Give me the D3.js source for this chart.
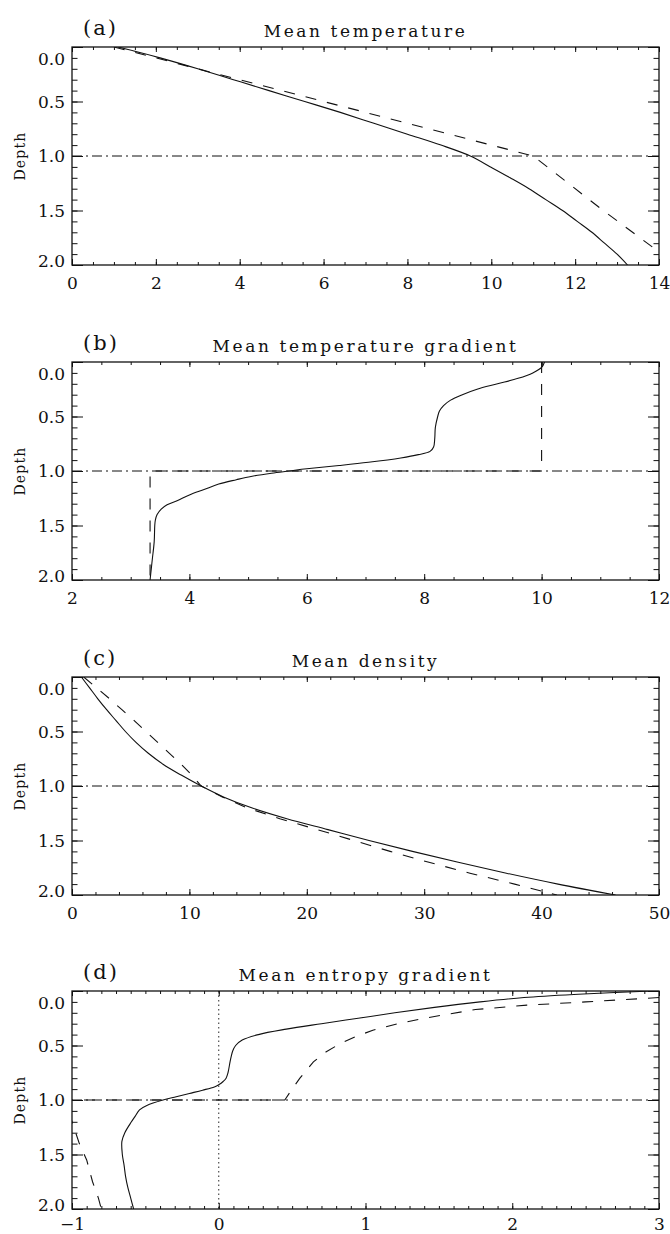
<!DOCTYPE html>
<html>
<head>
<meta charset="utf-8">
<script src="https://cdn.jsdelivr.net/npm/d3@7"></script>
<style>
  body { margin: 0; background: #fff; }
  svg text { font-family: "DejaVu Serif", "Liberation Serif", serif; fill: #111; }
</style>
</head>
<body>
<div id="chart"></div>
<script>
// ---- values ----
const panelLabels = ["(a)", "(b)", "(c)", "(d)"];
const panelTitles = ["Mean temperature", "Mean temperature gradient", "Mean density", "Mean entropy gradient"];
const xDomains = [[0, 14], [2, 12], [0, 50], [-1, 3]];
const xTickValues = [
    [0, 2, 4, 6, 8, 10, 12, 14],
    [2, 4, 6, 8, 10, 12],
    [0, 10, 20, 30, 40, 50],
    [-1, 0, 1, 2, 3]
];
const xMinorSteps = [0.5, 0.5, 2, 0.1];
const depthTicks = [0.0, 0.5, 1.0, 1.5, 2.0];
const interfaceDepth = 1.0;

// (a) temperature: simulation (solid) and initial model (dashed)
const tempDepth = [0, 0.1, 0.2, 0.3, 0.4, 0.5, 0.6, 0.7, 0.8, 0.9, 1.0, 1.1, 1.2, 1.3, 1.4, 1.5, 1.6, 1.7, 1.8, 1.9, 2.0];
const tempSim = [1.1, 2.1, 3.0, 3.85, 4.7, 5.55, 6.4, 7.2, 8.0, 8.8, 9.5, 9.98, 10.45, 10.9, 11.3, 11.7, 12.05, 12.4, 12.7, 13.0, 13.25];
const tempModelDepth = [0, 0.3, 0.5, 0.7, 1.0, 1.5, 1.88];
const tempModel = [1.0, 4.0, 6.0, 8.0, 11.0, 12.67, 14.0];

// (b) temperature gradient
const gradDepth = [0, 0.05, 0.1, 0.15, 0.2, 0.25, 0.3, 0.35, 0.4, 0.45, 0.5, 0.6, 0.7, 0.78, 0.82, 0.85, 0.88, 0.92, 0.95, 0.98, 1.0, 1.02, 1.05, 1.08, 1.12, 1.17, 1.22, 1.27, 1.31, 1.35, 1.4, 1.45, 1.5, 1.65, 1.8, 1.9, 2.0];
const gradSim = [10.05, 10.0, 9.85, 9.6, 9.25, 8.9, 8.65, 8.45, 8.33, 8.26, 8.23, 8.19, 8.18, 8.16, 8.1, 7.9, 7.6, 7.05, 6.55, 6.0, 5.7, 5.4, 5.05, 4.8, 4.5, 4.25, 4.0, 3.8, 3.62, 3.52, 3.45, 3.42, 3.41, 3.4, 3.37, 3.35, 3.33];
const gradModelDepth = [0, 1.0, 1.0, 2.0];
const gradModel = [10.0, 10.0, 3.33, 3.33];

// (c) density
const densDepth = [0, 0.1, 0.2, 0.3, 0.4, 0.5, 0.6, 0.7, 0.8, 0.9, 1.0, 1.1, 1.2, 1.3, 1.4, 1.5, 1.6, 1.7, 1.8, 1.9, 2.0];
const densSim = [0.8, 1.5, 2.2, 2.95, 3.75, 4.55, 5.45, 6.5, 7.75, 9.3, 11.0, 12.9, 15.3, 18.3, 21.8, 25.3, 29.0, 32.9, 37.0, 41.4, 46.3];
const densModel = [1.0, 2.1, 3.2, 4.25, 5.3, 6.3, 7.3, 8.3, 9.3, 10.2, 11.0, 12.8, 14.9, 17.7, 20.9, 24.0, 27.1, 30.4, 33.9, 37.7, 41.3];

// (d) entropy gradient
const entDepth = [0, 0.03, 0.06, 0.1, 0.15, 0.2, 0.25, 0.3, 0.35, 0.4, 0.45, 0.5, 0.55, 0.6, 0.65, 0.75, 0.8, 0.83, 0.86, 0.88, 0.91, 0.94, 0.97, 1.0, 1.05, 1.09, 1.15, 1.2, 1.3, 1.38, 1.5, 1.6, 1.7, 1.8, 1.9, 2.0];
const entSim = [2.95, 2.45, 2.08, 1.78, 1.47, 1.2, 0.95, 0.7, 0.46, 0.27, 0.16, 0.115, 0.095, 0.085, 0.077, 0.063, 0.05, 0.03, 0.0, -0.03, -0.11, -0.2, -0.29, -0.38, -0.49, -0.54, -0.57, -0.595, -0.64, -0.66, -0.657, -0.645, -0.635, -0.62, -0.6, -0.58];
const entModelDepth = [0.06, 0.1, 0.13, 0.17, 0.25, 0.3, 0.36, 0.42, 0.48, 0.56, 0.65, 0.8, 0.9, 1.0, 1.0, 1.2, 1.4, 1.55, 1.75, 1.9, 2.0];
const entModel = [3.0, 2.5, 2.1, 1.75, 1.4, 1.22, 1.05, 0.93, 0.83, 0.73, 0.645, 0.553, 0.5, 0.45, -1.05, -1.0, -0.95, -0.9, -0.86, -0.82, -0.8];
const entZeroLine = 0;

const panelSeries = [
    [{depth: tempDepth, value: tempSim, style: "solid"}, {depth: tempModelDepth, value: tempModel, style: "dashed"}],
    [{depth: gradDepth, value: gradSim, style: "solid"}, {depth: gradModelDepth, value: gradModel, style: "dashed"}],
    [{depth: densDepth, value: densSim, style: "solid"}, {depth: densDepth, value: densModel, style: "dashed"}],
    [{depth: entDepth, value: entSim, style: "solid"}, {depth: entModelDepth, value: entModel, style: "dashed"}]
];

// ---- layout ----
const W = 670, H = 1234;
const left = 72, plotW = 587, plotH = 218;
const panelTops = [47, 362, 677, 991];
const ink = "#111";
const dashes = {solid: null, dashed: "11,11"};

const svg = d3.select("#chart").append("svg")
    .attr("width", W).attr("height", H)
    .attr("viewBox", `0 0 ${W} ${H}`);
svg.append("rect").attr("width", W).attr("height", H).attr("fill", "#fff");

function minorValues(domain, step) {
    const n = Math.round((domain[1] - domain[0]) / step);
    return d3.range(n + 1).map(i => +(domain[0] + i * step).toFixed(4));
}

function styleAxis(g) {
    g.select(".domain").remove();
    g.selectAll("line").attr("stroke", ink).attr("stroke-width", 1);
    g.selectAll("text").attr("fill", ink).style("font-size", "17px");
}

panelTitles.forEach((title, i) => {
    const g = svg.append("g").attr("transform", `translate(${left},${panelTops[i]})`);

    const x = d3.scaleLinear().domain(xDomains[i]).range([0, plotW]);
    const y = d3.scaleLinear().domain([0, 2]).range([0, plotH]);

    const clipId = `clip-${i}`;
    g.append("clipPath").attr("id", clipId)
        .append("rect").attr("width", plotW).attr("height", plotH);

    // Axes: ticks point inward on all four sides
    const xMinor = minorValues(xDomains[i], xMinorSteps[i]);
    const yMinor = minorValues([0, 2], 0.1);

    g.append("g").attr("transform", `translate(0,${plotH})`)
        .call(d3.axisBottom(x).tickValues(xMinor).tickSizeInner(-3).tickSizeOuter(0).tickFormat(""))
        .call(styleAxis);
    // last panel sits at the page edge, labels nudged up a little
    g.append("g").attr("transform", `translate(0,${plotH})`)
        .call(d3.axisBottom(x).tickValues(xTickValues[i]).tickSizeInner(-6).tickSizeOuter(0)
            .tickPadding(i === 3 ? 9 : 12).tickFormat(d3.format("d")))
        .call(styleAxis);
    g.append("g")
        .call(d3.axisTop(x).tickValues(xMinor).tickSizeInner(-3).tickSizeOuter(0).tickFormat(""))
        .call(styleAxis);
    g.append("g")
        .call(d3.axisTop(x).tickValues(xTickValues[i]).tickSizeInner(-5).tickSizeOuter(0).tickFormat(""))
        .call(styleAxis);

    g.append("g")
        .call(d3.axisLeft(y).tickValues(yMinor).tickSizeInner(-5.5).tickSizeOuter(0).tickFormat(""))
        .call(styleAxis);
    const yAx = g.append("g")
        .call(d3.axisLeft(y).tickValues(depthTicks).tickSizeInner(-11).tickSizeOuter(0)
            .tickPadding(7).tickFormat(d3.format(".1f")))
        .call(styleAxis);
    // end labels sit inside the frame
    yAx.selectAll("text")
        .attr("dy", (d, k) => k === 0 ? "1.05em" : (k === depthTicks.length - 1 ? "0.08em" : "0.35em"));
    g.append("g").attr("transform", `translate(${plotW},0)`)
        .call(d3.axisRight(y).tickValues(yMinor).tickSizeInner(-5.5).tickSizeOuter(0).tickFormat(""))
        .call(styleAxis);
    g.append("g").attr("transform", `translate(${plotW},0)`)
        .call(d3.axisRight(y).tickValues(depthTicks).tickSizeInner(-11).tickSizeOuter(0).tickFormat(""))
        .call(styleAxis);

    // Frame
    g.append("rect")
        .attr("width", plotW).attr("height", plotH)
        .attr("fill", "none").attr("stroke", ink).attr("stroke-width", 1.3);

    const plot = g.append("g").attr("clip-path", `url(#${clipId})`);

    // Interface at depth 1
    plot.append("line")
        .attr("x1", 0).attr("x2", plotW)
        .attr("y1", y(interfaceDepth)).attr("y2", y(interfaceDepth))
        .attr("stroke", ink).attr("stroke-width", 1)
        .attr("stroke-dasharray", "10,4,2,4");

    // zero line in the entropy gradient panel
    if (i === 3) {
        plot.append("line")
            .attr("x1", x(entZeroLine)).attr("x2", x(entZeroLine))
            .attr("y1", 0).attr("y2", plotH)
            .attr("stroke", ink).attr("stroke-width", 0.9)
            .attr("stroke-dasharray", "1.5,3");
    }

    panelSeries[i].forEach(s => {
        const pts = s.depth.map((dd, k) => ({depth: dd, v: s.value[k]}));
        const line = d3.line()
            .x(d => x(d.v))
            .y(d => y(d.depth))
            .curve(s.style === "solid" ? d3.curveCatmullRom.alpha(0.5) : d3.curveLinear);
        plot.append("path")
            .datum(pts)
            .attr("d", line)
            .attr("fill", "none")
            .attr("stroke", ink)
            .attr("stroke-width", 1.1)
            .attr("stroke-dasharray", dashes[s.style]);
    });

    // Titles
    g.append("text")
        .attr("x", plotW / 2).attr("y", -10)
        .attr("text-anchor", "middle")
        .style("font-size", "17px")
        .style("letter-spacing", "2.6px")
        .text(title);
    g.append("text")
        .attr("x", 11).attr("y", -12)
        .style("font-size", "21px")
        .style("letter-spacing", "2px")
        .text(panelLabels[i]);
    g.append("text")
        .attr("transform", `translate(${24.5 - left},${plotH / 2}) rotate(-90)`)
        .attr("text-anchor", "middle")
        .style("font-size", "14px")
        .style("letter-spacing", "1.2px")
        .text("Depth");
});
</script>
</body>
</html>
